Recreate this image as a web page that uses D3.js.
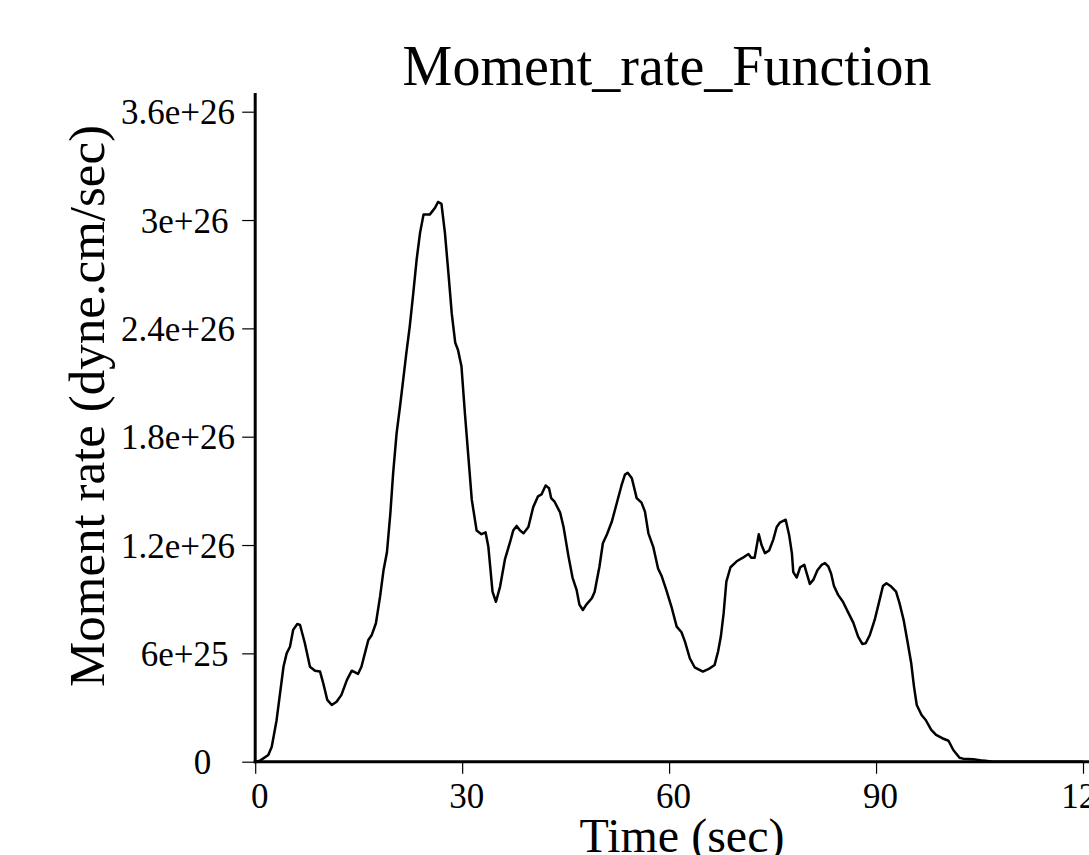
<!DOCTYPE html>
<html>
<head>
<meta charset="utf-8">
<script src="https://cdn.jsdelivr.net/npm/d3@7"></script>
<style>
  html, body { margin: 0; padding: 0; background: #fff; }
  svg { display: block; }
  text { font-family: "Liberation Serif", "Times New Roman", serif; fill: #000; }
</style>
</head>
<body>
<div id="chart"></div>
<script>
// ---- data (time in seconds, moment rate in dyne.cm/sec) ----
const timeSec = [
  0, 0.7, 1.9, 2.4, 3.1, 4.1, 4.56, 5.04, 5.5, 6.1, 6.5, 7.2, 7.94, 8.67, 9.4, 9.87, 10.45, 11.1, 11.8, 12.5,
  13.3, 14.0, 14.9, 15.4, 15.9, 16.4, 16.9, 17.5, 18.1, 18.6, 19.1, 19.6, 20.0, 20.5, 21.0, 21.5, 21.9, 22.4, 22.9, 23.4,
  23.9, 24.4, 25.3, 26.1, 26.5, 27.0, 27.5, 28.0, 28.5, 29.0, 29.4, 29.9, 30.4, 30.9, 31.4, 32.1, 32.8, 33.4, 33.8, 34.4,
  34.9, 35.5, 36.2, 36.9, 37.4, 37.9, 38.4, 38.9, 39.6, 40.3, 41.0, 41.5, 42.1, 42.6, 42.9, 43.4, 44.2, 44.7, 45.4, 46.0,
  46.6, 47.0, 47.5, 48.0, 48.8, 49.2, 49.9, 50.4, 51.0, 51.7, 52.4, 53.1, 53.6, 54.0, 54.6, 55.3, 56.0, 56.5, 57.0, 57.7,
  58.4, 58.9, 59.6, 60.4, 61.1, 61.8, 62.3, 63.0, 63.7, 64.9, 65.9, 66.6, 67.1, 67.5, 67.9, 68.3, 68.9, 69.8, 70.7, 71.5,
  71.9, 72.4, 73.0, 73.4, 73.9, 74.5, 75.1, 75.6, 76.1, 76.9, 77.4, 77.8, 78.0, 78.5, 79.0, 79.6, 79.9, 80.4, 80.9, 81.5,
  82.1, 82.6, 83.1, 83.5, 83.9, 84.5, 85.2, 85.9, 86.7, 87.4, 88.0, 88.5, 89.1, 89.8, 90.4, 91.0, 91.5, 92.2, 92.9, 93.4,
  94.0, 94.6, 95.1, 95.5, 95.9, 96.6, 97.2, 98.0, 98.7, 99.6, 100.5, 101.2, 102.1, 102.6, 104.1, 105.5, 107.0, 110.0, 115.0, 120.0
];
// values in units of 1e25 dyne.cm/sec
const momentRate1e25 = [
  0, 0.06, 0.37, 0.83, 2.3, 5.26, 6.0, 6.37, 7.3, 7.63, 7.57, 6.56, 5.26, 5.04, 4.99, 4.34, 3.42, 3.14, 3.32, 3.70,
  4.53, 5.04, 4.86, 5.26, 6.0, 6.74, 7.02, 7.67, 9.14, 10.6, 11.6, 13.8, 16.0, 18.2, 19.7, 21.3, 22.6, 24.1, 25.9, 27.8,
  29.3, 30.3, 30.3, 30.7, 31.0, 30.9, 29.3, 27.1, 24.8, 23.2, 22.8, 21.9, 19.3, 16.9, 14.5, 12.8, 12.6, 12.7, 11.9, 9.42,
  8.86, 9.7, 11.2, 12.1, 12.8, 13.06, 12.8, 12.65, 13.0, 14.1, 14.7, 14.8, 15.3, 15.15, 14.6, 14.4, 13.8, 13.0, 11.4, 10.2,
  9.5, 8.7, 8.4, 8.7, 9.05, 9.4, 10.8, 12.1, 12.6, 13.3, 14.3, 15.3, 15.9, 16.0, 15.7, 14.6, 14.35, 13.85, 12.65, 11.9,
  10.7, 10.3, 9.5, 8.5, 7.48, 7.17, 6.65, 5.73, 5.23, 4.99, 5.17, 5.36, 6.1, 6.93, 8.2, 9.97, 10.77, 11.1, 11.3, 11.5,
  11.3, 11.3, 12.6, 12.0, 11.55, 11.7, 12.3, 13.0, 13.26, 13.4, 12.56, 11.55, 10.5, 10.2, 10.77, 10.9, 10.5, 9.85, 10.07, 10.6,
  10.9, 11.0, 10.8, 10.4, 9.73, 9.24, 8.86, 8.31, 7.7, 6.93, 6.52, 6.56, 7.02, 7.85, 8.78, 9.73, 9.88, 9.7, 9.42, 8.78,
  7.85, 6.56, 5.45, 4.16, 3.14, 2.59, 2.31, 1.76, 1.48, 1.3, 1.16, 0.65, 0.22, 0.17, 0.13, 0.06, 0.0, 0.0, 0.0, 0.0
];
const xTicks = [0, 30, 60, 90, 120];
const xTickLabels = ["0", "30", "60", "90", "120"];
const yTicks = [0, 6e25, 1.2e26, 1.8e26, 2.4e26, 3e26, 3.6e26];
const yTickLabels = ["0", "6e+25", "1.2e+26", "1.8e+26", "2.4e+26", "3e+26", "3.6e+26"];
const titleText = "Moment_rate_Function";
const xLabelText = "Time (sec)";
const yLabelText = "Moment rate (dyne.cm/sec)";

// ---- drawing ----
const W = 1089, H = 855;
const svg = d3.select("#chart").append("svg").attr("width", W).attr("height", H);

const x = d3.scaleLinear().domain([0, 120]).range([255.2, 1083]);
const y = d3.scaleLinear().domain([0, 3.6e26]).range([761.7, 111.7]);

const data = timeSec.map((t, i) => ({ t, v: momentRate1e25[i] * 1e25 }));

// curve
svg.append("path")
  .datum(data)
  .attr("fill", "none")
  .attr("stroke", "#000")
  .attr("stroke-width", 2.5)
  .attr("stroke-linejoin", "round")
  .attr("d", d3.line().x(d => x(d.t)).y(d => y(d.v)));

// y axis
const yAxisG = svg.append("g").attr("transform", `translate(${x(0)},0)`)
  .call(d3.axisLeft(y).tickValues(yTicks).tickSize(13).tickFormat((d, i) => yTickLabels[i]));
yAxisG.select(".domain").remove();
yAxisG.selectAll(".tick line").attr("stroke", "#000").attr("stroke-width", 1.2);
yAxisG.selectAll(".tick text")
  .attr("font-size", 35)
  .attr("font-family", "Liberation Serif, Times New Roman, serif")
  .attr("dy", 12)
  .attr("text-anchor", "start")
  .each(function () {
    const w = this.getComputedTextLength();
    // right edge drifts with label width, as in the reference
    d3.select(this).attr("x", (207 + 0.245 * w - w) - x(0));
  });
svg.append("line")
  .attr("x1", x(0)).attr("x2", x(0))
  .attr("y1", 93).attr("y2", y(0) + 1.5)
  .attr("stroke", "#000").attr("stroke-width", 3);

// x axis
const xAxisG = svg.append("g").attr("transform", `translate(0,${y(0)})`)
  .call(d3.axisBottom(x).tickValues(xTicks).tickSize(12).tickFormat((d, i) => xTickLabels[i]));
xAxisG.select(".domain").remove();
xAxisG.selectAll(".tick line").attr("stroke", "#000").attr("stroke-width", 1.2);
xAxisG.selectAll(".tick text")
  .attr("font-size", 35)
  .attr("font-family", "Liberation Serif, Times New Roman, serif")
  .attr("y", 46).attr("dy", 0).attr("dx", 4);
svg.append("line")
  .attr("x1", x(0) - 1.5).attr("x2", W)
  .attr("y1", y(0)).attr("y2", y(0))
  .attr("stroke", "#000").attr("stroke-width", 3);

// title
svg.append("text")
  .attr("x", 667).attr("y", 85)
  .attr("text-anchor", "middle")
  .attr("font-size", 56)
  .text(titleText);

// x label
svg.append("text")
  .attr("x", 682).attr("y", 852)
  .attr("text-anchor", "middle")
  .attr("font-size", 48)
  .text(xLabelText);

// y label
svg.append("text")
  .attr("transform", `translate(104,406) rotate(-90)`)
  .attr("text-anchor", "middle")
  .attr("font-size", 51)
  .text(yLabelText);
</script>
</body>
</html>
